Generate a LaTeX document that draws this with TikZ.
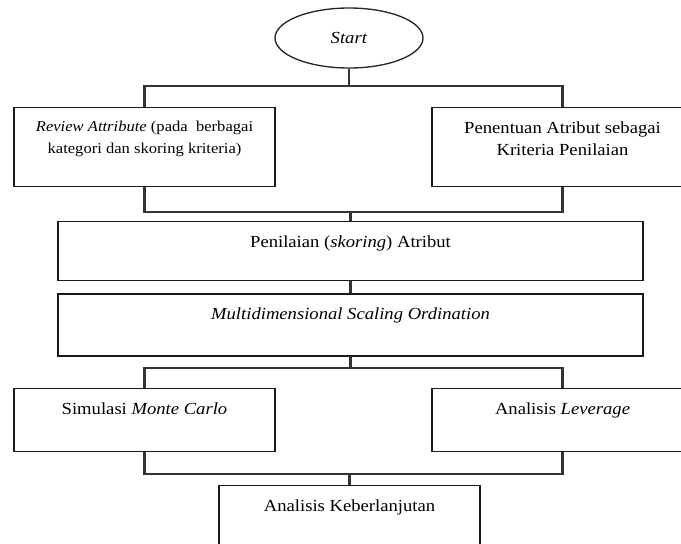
\documentclass[tikz,border=0pt]{standalone}
\usepackage{fontspec}
\setmainfont{Liberation Serif}[FakeStretch=1.1]
\usetikzlibrary{shapes.geometric,positioning}
\tikzset{
	mulai/.style={
		ellipse,
		draw=black!85,
		line width=1pt,
		minimum width=111pt,
		minimum height=45pt,
	},
	tahap/.style={
		rectangle,
		draw=black!90,
		line width=1pt,
		minimum width=195.75pt,
		anchor=north,
	},
	tahaplebar/.style={
		tahap,
		minimum width=438.75pt,
	},
	isi/.style={
		anchor=north,
		yshift=-10.5pt,
		inner sep=0pt,
		align=center,
	},
	hubung/.style={
		line width=1.6pt,
		draw=black!80,
	},
}

\begin{document}
\begin{tikzpicture}[x=0.75pt,y=-0.75pt,font=\fontsize{12.7}{16.5}\selectfont]
	\clip (0,0) rectangle (681,543);
	\node[mulai] (start) at (349,38) {\textit{Start}};
	\node[tahap,minimum height=59.25pt,label={[isi,font=\fontsize{11.3}{16}\selectfont]north:\textit{Review Attribute} (pada\ \ berbagai\\kategori dan skoring kriteria)}] (review) at (144.5,107) {};
	\node[tahap,minimum height=59.25pt,label={[isi]north:Penentuan Atribut sebagai\\Kriteria Penilaian}] (penentuan) at (562.5,107) {};
	\node[tahaplebar,minimum height=44.25pt,label={[isi]north:Penilaian (\textit{skoring}) Atribut}] (penilaian) at (350.5,221) {};
	\node[tahaplebar,minimum height=46.5pt,below=9pt of penilaian,label={[isi]north:\textit{Multidimensional Scaling Ordination}}] (mds) {};
	\node[tahap,minimum height=47.25pt,label={[isi]north:Simulasi \textit{Monte Carlo}}] (montecarlo) at (144.5,388) {};
	\node[tahap,minimum height=47.25pt,label={[isi]north:Analisis \textit{Leverage}}] (leverage) at (562.5,388) {};
	\node[tahap,minimum height=60pt,label={[isi]north:Analisis Keberlanjutan}] (keberlanjutan) at (349.5,485) {};

	% cabang atas
	\coordinate (cab1) at ([yshift=15.75pt]review.north);
	\draw[hubung] (start.south) -- (start.south |- cab1);
	\draw[hubung] (review.north) -- (cab1) -| (penentuan.north);
	\coordinate (gab1) at ([yshift=-18.75pt]review.south);
	\draw[hubung] (review.south) -- (gab1) -| (penentuan.south);
	\draw[hubung] (penilaian.north) -- (penilaian.north |- gab1);
	\draw[hubung] (penilaian.south) -- (mds.north);
	% cabang bawah
	\coordinate (cab2) at ([yshift=15pt]montecarlo.north);
	\draw[hubung] (mds.south) -- (mds.south |- cab2);
	\draw[hubung] (montecarlo.north) -- (cab2) -| (leverage.north);
	\coordinate (gab2) at ([yshift=-16.5pt]montecarlo.south);
	\draw[hubung] (montecarlo.south) -- (gab2) -| (leverage.south);
	\draw[hubung] (keberlanjutan.north) -- (keberlanjutan.north |- gab2);
\end{tikzpicture}
\end{document}
